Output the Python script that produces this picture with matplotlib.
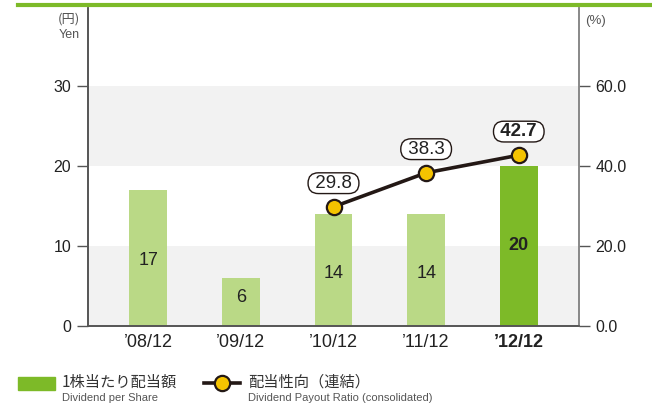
import matplotlib
matplotlib.use("Agg")
import matplotlib.pyplot as plt
from matplotlib.patches import Rectangle
from matplotlib.lines import Line2D

plt.rcParams["font.family"] = ["Liberation Sans", "Noto Sans CJK JP", "DejaVu Sans"]

periods = ["’08/12", "’09/12", "’10/12", "’11/12", "’12/12"]
dividend = [17, 6, 14, 14, 20]
payout_x = [2, 3, 4]
payout = [29.8, 38.3, 42.7]

LIGHT = "#bad986"
DARK = "#7dba28"
LINE = "#231815"
GOLD = "#f5c300"
JP = ["Noto Sans CJK JP", "DejaVu Sans"]

fig = plt.figure(figsize=(6.52, 4.17), dpi=100)
ax = fig.add_axes([88 / 652, 1 - 326 / 417, 491 / 652, 318 / 417])
ax2 = ax.twinx()

x = list(range(len(periods)))
ax.set_xlim(-0.65, 4.65)
ax.set_ylim(0, 39.75)
ax2.set_ylim(0, 79.5)

# background bands
for lo in (0, 20):
    ax.axhspan(lo, lo + 10, color="#f2f2f2", zorder=0, lw=0)

colors = [LIGHT] * 4 + [DARK]
ax.bar(x, dividend, width=0.41, color=colors, zorder=2)
for i, v in enumerate(dividend):
    last = i == len(dividend) - 1
    ypos = 8.2 if v == 17 else (v / 2 + 0.5 if v < 10 else v / 2 - 0.5)
    if last:
        ypos = 10
    ax.text(i, ypos, str(v), ha="center", va="center", fontsize=13, color="#222",
            fontweight="bold" if last else "normal", zorder=3)

ax2.plot(payout_x, payout, color=LINE, lw=2.6, marker="o", ms=11,
         mfc=GOLD, mec=LINE, mew=1.6, zorder=5)
for i, (px, pv) in enumerate(zip(payout_x, payout)):
    last = i == len(payout) - 1
    ax2.annotate(f" {pv:.1f} ", (px, pv), xytext=(0, 17), textcoords="offset points",
                 ha="center", va="center", fontsize=13.5, color="#222",
                 fontweight="bold" if last else "normal",
                 bbox=dict(boxstyle="round,pad=0.1,rounding_size=0.55", fc="white", ec=LINE, lw=1.0))

ax.set_xticks(x)
ax.set_xticklabels(periods, fontsize=13, color="#222")
ax.get_xticklabels()[-1].set_fontweight("bold")
ax.tick_params(axis="x", length=0, pad=6)

ax.set_yticks([0, 10, 20, 30])
ax.tick_params(axis="y", length=8, width=1, color="#555", labelsize=11.5, labelcolor="#222", pad=4)
ax2.set_yticks([0, 20, 40, 60])
ax2.set_yticklabels(["0.0", "20.0", "40.0", "60.0"])
ax2.tick_params(axis="y", length=8, width=1, color="#555", labelsize=11.5, labelcolor="#222", pad=4)

for a in (ax, ax2):
    a.spines["top"].set_visible(False)
    a.spines["left"].set_color("#555")
    a.spines["right"].set_color("#888")
    a.spines["bottom"].set_color("#555")
    for s in ("left", "right", "bottom"):
        a.spines[s].set_linewidth(1.2)

ax.set_zorder(ax2.get_zorder() - 1)
ax2.patch.set_visible(False)

# unit labels
fig.text(80 / 652, 1 - 19 / 417, "(円)", ha="right", va="center", fontsize=9.5, color="#555", family=JP)
fig.text(80 / 652, 1 - 35 / 417, "Yen", ha="right", va="center", fontsize=9, color="#555")
fig.text(585 / 652, 1 - 21 / 417, "(%)", ha="left", va="center", fontsize=9.5, color="#555")

# top green rule
fig.add_artist(Line2D([18 / 652, 1], [1 - 5 / 417, 1 - 5 / 417], color="#7dba28", lw=3))

# legend
fig.add_artist(Rectangle((18 / 652, 1 - 390 / 417), 37 / 652, 13 / 417, color=DARK,
                         transform=fig.transFigure))
fig.text(62 / 652, 1 - 382 / 417, "1株当たり配当額", va="center", fontsize=11, color="#333", family=JP)
fig.text(62 / 652, 1 - 398 / 417, "Dividend per Share", va="center", fontsize=8, color="#555")
fig.add_artist(Line2D([204 / 652, 240 / 652], [1 - 383 / 417] * 2, color=LINE, lw=2.6))
fig.add_artist(Line2D([222 / 652], [1 - 383 / 417], color=LINE, marker="o", ms=11,
                      mfc=GOLD, mec=LINE, mew=1.6, lw=0))
fig.text(248 / 652, 1 - 382 / 417, "配当性向（連結）", va="center", fontsize=11, color="#333", family=JP)
fig.text(248 / 652, 1 - 398 / 417, "Dividend Payout Ratio (consolidated)", va="center",
         fontsize=8, color="#555")

fig.savefig("out.png", dpi=100)
